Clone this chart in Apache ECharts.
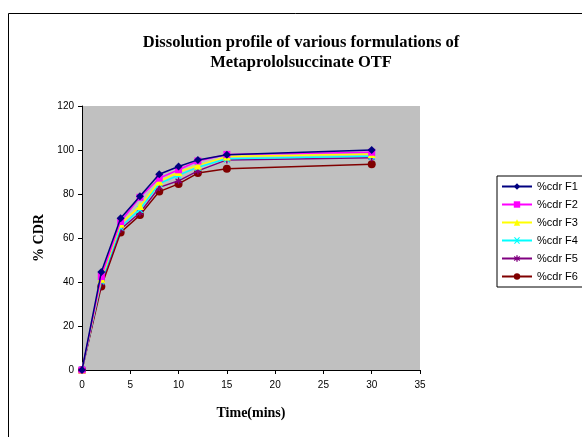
<!DOCTYPE html>
<html>
<head>
<meta charset="utf-8">
<script src="https://cdn.jsdelivr.net/npm/echarts@6/dist/echarts.min.js"></script>
<style>html,body{margin:0;padding:0;background:#fff}#c{width:582px;height:437px}</style>
</head>
<body>
<div id="c"></div>
<script>
const times = [0, 2, 4, 6, 8, 10, 12, 15, 30];
const seriesNames = ['%cdr F1', '%cdr F2', '%cdr F3', '%cdr F4', '%cdr F5', '%cdr F6'];
const f1 = [0, 44.5, 69, 79, 89, 92.5, 95.5, 97.8, 100];
const f2 = [0, 42.5, 67.5, 78.5, 87.2, 91, 95, 98, 99];
const f3 = [0, 41.5, 66.5, 74.5, 85.7, 90, 93, 97, 98.2];
const f4 = [0, 40.5, 65, 73, 84.8, 88.5, 92.2, 96, 97.2];
const f5 = [0, 39.5, 64, 71.5, 83, 86, 90.5, 95.5, 96.5];
const f6 = [0, 38, 62.5, 70.4, 81.1, 84.6, 89.5, 91.5, 93.5];
const yTicks = [0, 20, 40, 60, 80, 100, 120];
const xTicks = [0, 5, 10, 15, 20, 25, 30, 35];

const allValues = [f1, f2, f3, f4, f5, f6];
const colors = ['#000080', '#FF00FF', '#FFFF00', '#00FFFF', '#800080', '#800000'];
const xPath = 'path://M0,0 L2,0 L5,3 L8,0 L10,0 L6,5 L10,10 L8,10 L5,7 L2,10 L0,10 L4,5 Z';
const starPath = 'path://M4,0 L6,0 L6,3.3 L8.6,1.2 L9.8,2.8 L6.8,5 L9.8,7.2 L8.6,8.8 L6,6.7 L6,10 L4,10 L4,6.7 L1.4,8.8 L0.2,7.2 L3.2,5 L0.2,2.8 L1.4,1.2 L4,3.3 Z';
const symbols = ['diamond', 'rect', 'triangle', xPath, starPath, 'circle'];
const sizes = [8, 7, 8, 7, 7, 8];

const chart = echarts.init(document.getElementById('c'), null, {renderer: 'canvas'});
const series = seriesNames.map((n, i) => ({
  name: n,
  type: 'line',
  data: times.map((t, j) => [t, allValues[i][j]]),
  symbol: symbols[i],
  symbolSize: sizes[i],
  showAllSymbol: true,
  itemStyle: {color: colors[i], borderWidth: 0},
  lineStyle: {color: colors[i], width: 1.5},
  z: 10 - i,
  animation: false
}));

chart.setOption({
  animation: false,
  backgroundColor: '#ffffff',
  title: {
    text: 'Dissolution profile of various formulations of\nMetaprololsuccinate OTF',
    left: 296, top: 28,
    textAlign: 'center',
    textStyle: {fontFamily: 'Liberation Serif', fontWeight: 'bold', fontSize: 16.5, lineHeight: 20, color: '#000'}
  },
  graphic: [
    {type: 'rect', shape: {x: 8.5, y: 13.5, width: 600, height: 440}, style: {fill: 'none', stroke: '#000', lineWidth: 1}, silent: true, z: -1}
  ],
  legend: {
    orient: 'vertical',
    left: 497, top: 176,
    itemWidth: 30, itemHeight: 8, itemGap: 7,
    padding: [5, 20, 5, 4],
    borderColor: '#000', borderWidth: 1,
    backgroundColor: '#fff',
    textStyle: {fontFamily: 'Arial, Liberation Sans', fontSize: 11, color: '#000', padding: [0, 0, 0, 0]},
    data: seriesNames
  },
  grid: {left: 82, right: 162, top: 106, bottom: 67, backgroundColor: '#C0C0C0', show: true, borderWidth: 0},
  xAxis: {
    type: 'value', min: 0, max: 35, interval: 5,
    name: 'Time(mins)', nameLocation: 'middle', nameGap: 36,
    nameTextStyle: {fontFamily: 'Liberation Serif', fontWeight: 'bold', fontSize: 14, color: '#000'},
    axisLine: {onZero: false, lineStyle: {color: '#000', width: 1}},
    axisTick: {show: true, length: 4, lineStyle: {color: '#000'}},
    axisLabel: {fontFamily: 'Arial, Liberation Sans', fontSize: 10, color: '#000', margin: 10,
      formatter: v => xTicks.includes(v) ? String(v) : ''},
    splitLine: {show: false}
  },
  yAxis: {
    type: 'value', min: 0, max: 120, interval: 20,
    name: '% CDR', nameLocation: 'middle', nameGap: 36, nameRotate: 90,
    nameTextStyle: {fontFamily: 'Liberation Serif', fontWeight: 'bold', fontSize: 14, color: '#000'},
    axisLine: {show: true, lineStyle: {color: '#000', width: 1}},
    axisTick: {show: true, length: 4, lineStyle: {color: '#000'}},
    axisLabel: {fontFamily: 'Arial, Liberation Sans', fontSize: 10, color: '#000', margin: 8,
      formatter: v => yTicks.includes(v) ? String(v) : ''},
    splitLine: {show: false}
  },
  series: series
});
</script>
</body>
</html>
